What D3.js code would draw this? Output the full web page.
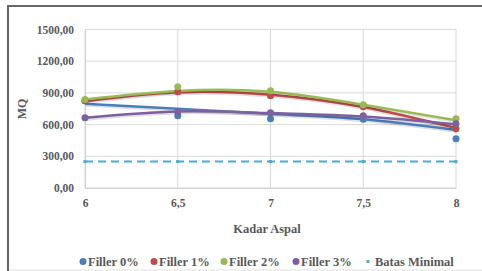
<!DOCTYPE html>
<html>
<head>
<meta charset="utf-8">
<script src="https://cdn.jsdelivr.net/npm/d3@7"></script>
<style>
  body { margin: 0; background: #fff; }
  text { font-family: "Liberation Serif", "DejaVu Serif", serif; font-weight: bold; fill: #595959; }
</style>
</head>
<body>
<div id="chart"></div>
<script>
// data
var kadar = [6, 6.5, 7, 7.5, 8];
var filler0 = [826, 684, 655, 650, 465];
var filler1 = [826, 911, 873, 769, 560];
var filler2 = [838, 959, 921, 788, 655];
var filler3 = [665, 722, 712, 683, 608];
// trendline values as drawn in the picture
var trend0 = [797, 750, 702, 650, 548];
var trend1 = [822, 906, 883, 766, 567];
var trend2 = [838, 918, 910, 788, 642];
var trend3 = [665, 724, 709, 677, 603];
var batas = [250, 250, 250, 250, 250];
var yTicks = [0, 300, 600, 900, 1200, 1500];

var series = [
    { name: "Filler 0%", vals: filler0, trend: trend0, color: "#4a7ebb" },
    { name: "Filler 1%", vals: filler1, trend: trend1, color: "#be4b48" },
    { name: "Filler 2%", vals: filler2, trend: trend2, color: "#98b954" },
    { name: "Filler 3%", vals: filler3, trend: trend3, color: "#7d60a0" }
];

var width = 482, height = 271;
var svg = d3.select("#chart").append("svg")
    .attr("width", width)
    .attr("height", height);

// outer frame (only top, left, bottom visible)
svg.append("line").attr("x1", 7).attr("x2", 482).attr("y1", 6).attr("y2", 6)
    .attr("stroke", "#666").attr("stroke-width", 2);
svg.append("line").attr("x1", 8).attr("x2", 8).attr("y1", 5).attr("y2", 271)
    .attr("stroke", "#666").attr("stroke-width", 2);
svg.append("line").attr("x1", 9).attr("x2", 482).attr("y1", 270).attr("y2", 270)
    .attr("stroke", "#e0e0e0").attr("stroke-width", 1);

var x = d3.scaleLinear().domain([6, 8]).range([85, 456]);
var y = d3.scaleLinear().domain([0, 1500]).range([188, 29.5]);

// grid
svg.append("g").selectAll("line").data(yTicks).enter().append("line")
    .attr("x1", 85).attr("x2", 456)
    .attr("y1", d => y(d)).attr("y2", d => y(d))
    .attr("stroke", "#d9d9d9").attr("stroke-width", 1);
svg.append("g").selectAll("line").data(kadar).enter().append("line")
    .attr("x1", d => x(d)).attr("x2", d => x(d))
    .attr("y1", 29.5).attr("y2", 188)
    .attr("stroke", "#d9d9d9").attr("stroke-width", 1);

// axes
var yAxis = svg.append("g").attr("transform", "translate(85,0)")
    .call(d3.axisLeft(y).tickValues(yTicks).tickSize(0).tickPadding(11)
        .tickFormat(d => d3.format(".2f")(d).replace(".", ",")));
yAxis.select(".domain").attr("stroke", "#d0d0d0");
yAxis.selectAll("text").style("font-size", "11.5px");

var xAxis = svg.append("g").attr("transform", "translate(0,188)")
    .call(d3.axisBottom(x).tickValues(kadar).tickSize(0).tickPadding(11)
        .tickFormat(d => String(d).replace(".", ",")));
xAxis.select(".domain").attr("stroke", "#d0d0d0");
xAxis.selectAll("text").style("font-size", "11.5px");

// axis titles
svg.append("text")
    .attr("transform", "translate(26,109) rotate(-90)")
    .attr("text-anchor", "middle")
    .style("font-size", "12px")
    .text("MQ");
svg.append("text")
    .attr("x", 267).attr("y", 233)
    .attr("text-anchor", "middle")
    .style("font-size", "12.5px")
    .text("Kadar Aspal");

var line = d3.line().x((d, i) => x(kadar[i])).y(d => y(d)).curve(d3.curveNatural);

series.forEach(s => {
    // soft shadow
    svg.append("path").datum(s.trend)
        .attr("d", line)
        .attr("fill", "none")
        .attr("stroke", "#000").attr("stroke-opacity", 0.12)
        .attr("stroke-width", 3)
        .attr("transform", "translate(1,1.5)");
    svg.append("path").datum(s.trend)
        .attr("d", line)
        .attr("fill", "none")
        .attr("stroke", s.color)
        .attr("stroke-width", 2.5);
});

series.forEach(s => {
    svg.append("g").selectAll("circle").data(s.vals).enter().append("circle")
        .attr("cx", (d, i) => x(kadar[i]))
        .attr("cy", d => y(d))
        .attr("r", 3.5)
        .attr("fill", s.color);
});

// batas minimal
svg.append("line")
    .attr("x1", x(6)).attr("x2", x(8))
    .attr("y1", y(batas[0])).attr("y2", y(batas[0]))
    .attr("stroke", "#4bacc6").attr("stroke-width", 2)
    .attr("stroke-dasharray", "8,5");
svg.append("g").selectAll("rect").data(batas).enter().append("rect")
    .attr("x", (d, i) => x(kadar[i]) - 1.5)
    .attr("y", d => y(d) - 1.5)
    .attr("width", 3).attr("height", 3)
    .attr("fill", "#4bacc6");

// legend
var legend = [
    { name: "Filler 0%", color: "#4a7ebb", lx: 83 },
    { name: "Filler 1%", color: "#be4b48", lx: 154 },
    { name: "Filler 2%", color: "#98b954", lx: 224 },
    { name: "Filler 3%", color: "#7d60a0", lx: 296 },
    { name: "Batas Minimal", color: "#4bacc6", lx: 368, small: true }
];
var lg = svg.append("g");
legend.forEach(l => {
    if (l.small) {
        lg.append("rect").attr("x", l.lx - 1.5).attr("y", 260).attr("width", 3).attr("height", 3).attr("fill", l.color);
    } else {
        lg.append("circle").attr("cx", l.lx).attr("cy", 261.5).attr("r", 3.5).attr("fill", l.color);
    }
    lg.append("text").attr("x", l.lx + (l.small ? 7 : 5)).attr("y", 265.5)
        .style("font-size", "12.5px").text(l.name);
});
</script>
</body>
</html>
